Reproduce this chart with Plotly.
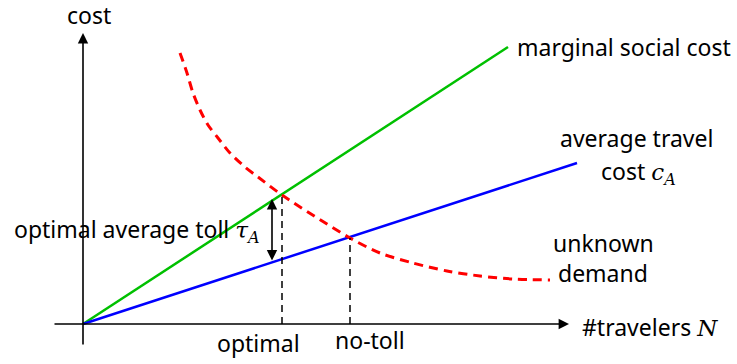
import plotly.graph_objects as go

# Data (schematic units: x = travelers, y = cost)
msc_x = [0, 425]
msc_y = [0, 277]
atc_x = [0, 494]
atc_y = [0, 161]
demand_x = [97, 104, 110, 117, 125, 135, 147, 162, 175, 199, 267, 297, 330, 364, 397, 430, 467]
demand_y = [271, 251, 231, 214, 199, 186, 171, 157, 147, 129, 86, 71, 61, 53, 48, 45, 44]
optimal_x = 199
optimal_y = 129
notoll_x = 267
notoll_y = 86
toll_x = 189
toll_top = 125
toll_bottom = 62

FONT = "Noto Sans"
MATH = "DejaVu Serif"
fs = 23

fig = go.Figure()
fig.add_trace(go.Scatter(x=msc_x, y=msc_y, mode="lines",
                         line=dict(color="#00C000", width=2.5)))
fig.add_trace(go.Scatter(x=atc_x, y=atc_y, mode="lines",
                         line=dict(color="#0000FF", width=2.5)))
fig.add_trace(go.Scatter(x=demand_x, y=demand_y, mode="lines",
                         line=dict(color="#FF0000", width=3, dash="9px,6px",
                                   shape="spline", smoothing=0.8)))
fig.add_trace(go.Scatter(x=[optimal_x, optimal_x], y=[0, optimal_y], mode="lines",
                         line=dict(color="black", width=1.5, dash="7px,5px")))
fig.add_trace(go.Scatter(x=[notoll_x, notoll_x], y=[0, notoll_y], mode="lines",
                         line=dict(color="black", width=1.5, dash="7px,5px")))

annots = []
# axes with arrows
annots.append(dict(x=0, y=291, ax=0, ay=-22, xref="x", yref="y", axref="x", ayref="y",
                   text="", showarrow=True, arrowhead=2, arrowsize=1.3, arrowwidth=1.6,
                   arrowcolor="black"))
annots.append(dict(x=486, y=0, ax=-30, ay=0, xref="x", yref="y", axref="x", ayref="y",
                   text="", showarrow=True, arrowhead=2, arrowsize=1.3, arrowwidth=1.6,
                   arrowcolor="black"))
# toll double arrow
annots.append(dict(x=toll_x, y=toll_top, ax=toll_x, ay=toll_bottom, xref="x", yref="y",
                   axref="x", ayref="y", text="", showarrow=True, arrowhead=2,
                   startarrowhead=2, arrowside="end+start", arrowsize=1.3,
                   startarrowsize=1.3, arrowwidth=1.6, arrowcolor="black"))


def txt(x, y, text, xanchor="center"):
    annots.append(dict(x=x, y=y, xref="x", yref="y", text=text, showarrow=False,
                       xanchor=xanchor, yanchor="middle",
                       font=dict(family=FONT, size=fs, color="black")))


def m(s):
    return f'<span style="font-family:{MATH}"><i>{s}</i></span>'


txt(6, 309, "cost")
txt(432, 277, "marginal social cost", "left")
txt(553, 186, "average travel")
txt(555, 152, "cost " + m("c") + "<sub>" + m("A") + "</sub>")
txt(520, 81, "unknown")
txt(520, 51, "demand")
txt(-71, 94, "optimal average toll " + m("τ") + "<sub>" + m("A") + "</sub>", "left")
txt(497, -3, "#travelers " + m("N"), "left")
txt(175, -19, "optimal")
txt(287, -16, "no-toll")

fig.update_layout(
    width=737, height=364,
    margin=dict(l=0, r=0, t=0, b=0),
    paper_bgcolor="white", plot_bgcolor="white",
    showlegend=False,
    xaxis=dict(range=[-83, 654], visible=False, fixedrange=True),
    yaxis=dict(range=[-40, 324], visible=False, fixedrange=True),
    annotations=annots,
)
fig.write_html("out.html", config={"displayModeBar": False},
               post_script="document.body.style.margin='0';document.body.style.overflow='hidden';")
